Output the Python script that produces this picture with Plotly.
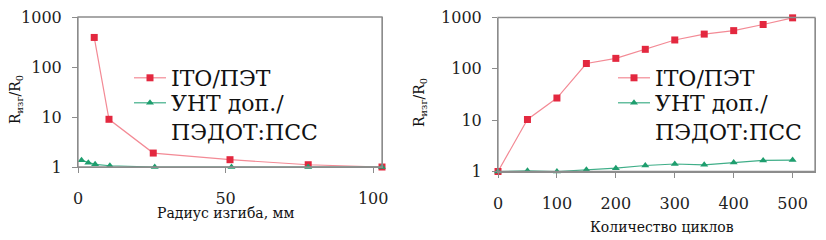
import plotly.graph_objects as go

# Left panel: bending radius
radius_ito = [5.5, 10.5, 25.5, 51.5, 78, 103]
ito_left = [390, 9.0, 1.9, 1.4, 1.11, 1.0]
radius_cnt = [1.2, 3.5, 5.8, 10.8, 26, 52, 78, 103]
cnt_left = [1.36, 1.22, 1.13, 1.06, 1.0, 1.0, 1.0, 1.0]

# Right panel: number of cycles
cycles = [0, 50, 100, 150, 200, 250, 300, 350, 400, 450, 500]
ito_right = [1.0, 10.3, 27, 127, 160, 240, 365, 475, 555, 730, 985]
cnt_right = [1.0, 1.03, 1.0, 1.08, 1.16, 1.31, 1.4, 1.35, 1.5, 1.64, 1.67]

name_ito = "ITO/ПЭТ"
name_cnt = "УНТ доп./<br>ПЭДОТ:ПСС"
xtitle_left = "Радиус изгиба, мм"
xtitle_right = "Количество циклов"
ytitle = "R<sub>изг</sub>/R<sub>0</sub>"

RED = "#e3283f"
RED_LINE = "#f38a95"
GREEN = "#1e9e6e"
GREEN_LINE = "#3fae88"
AXIS = "#8c8c8c"
FONT = "DejaVu Serif"

OFF = 8
W, H = 826, 240
def fx(px):
    return (px - OFF) / W
def fy(py):
    return 1 - (py - OFF) / H

fig = go.Figure()
def add(x, y, name, red, xa, ya, leg):
    fig.add_trace(go.Scatter(
        x=x, y=y, mode="lines+markers", name=name,
        line=dict(color=RED_LINE if red else GREEN_LINE, width=1.2),
        marker=dict(symbol="square" if red else "triangle-up", size=7,
                    color=RED if red else GREEN),
        xaxis=xa, yaxis=ya, legend=leg, cliponaxis=False))

add(radius_ito, ito_left, name_ito, True, "x", "y", "legend")
add(radius_cnt, cnt_left, name_cnt, False, "x", "y", "legend3")
add(cycles, ito_right, name_ito, True, "x2", "y2", "legend2")
add(cycles, cnt_right, name_cnt, False, "x2", "y2", "legend4")

axis_common = dict(showline=True, linecolor=AXIS, linewidth=1,
                   showgrid=False, zeroline=False, ticks="outside", ticklen=5,
                   tickcolor=AXIS, automargin=False, ticklabeloverflow="allow",
                   tickfont=dict(family=FONT, size=16, color="#222"))
xax = dict(ticklabelstandoff=12, mirror=False, **axis_common)
yax = dict(ticklabelstandoff=7, mirror=True, **axis_common)

legend_common = dict(font=dict(family=FONT, size=22, color="#111"), bgcolor="rgba(0,0,0,0)",
                     tracegroupgap=0, itemwidth=32, valign="top", xanchor="left", yanchor="top",
                     itemclick=False, itemdoubleclick=False)

title_font = dict(family=FONT, size=14, color="#111")

fig.update_layout(
    width=W, height=H, margin=dict(l=0, r=0, t=0, b=0, autoexpand=False),
    paper_bgcolor="white", plot_bgcolor="white",
    xaxis=dict(domain=[fx(78), fx(382)], range=[0, 103], tickvals=[0, 50, 100],
               anchor="y", **xax),
    yaxis=dict(domain=[fy(167), fy(17)], type="log", range=[0, 3],
               tickvals=[1, 10, 100, 1000], ticktext=["1", "10", "100", "1000"],
               anchor="x", **yax),
    xaxis2=dict(domain=[fx(498), fx(815)], range=[0, 538],
                tickvals=[0, 100, 200, 300, 400, 500], anchor="y2", **xax),
    yaxis2=dict(domain=[fy(171.5), fy(17.5)], type="log", range=[0, 3],
                tickvals=[1, 10, 100, 1000], ticktext=["1", "10", "100", "1000"],
                anchor="x2", **yax),
    legend=dict(x=fx(129), y=fy(57), **legend_common),
    legend3=dict(x=fx(129), y=fy(82), **legend_common),
    legend2=dict(x=fx(613), y=fy(57), **legend_common),
    legend4=dict(x=fx(613), y=fy(82), **legend_common),
    showlegend=True,
    shapes=[
        dict(type="rect", xref="paper", yref="paper", x0=fx(78), x1=fx(382),
             y0=fy(167), y1=fy(17), line=dict(color=AXIS, width=1.3),
             fillcolor="rgba(0,0,0,0)", layer="above"),
        dict(type="rect", xref="paper", yref="paper", x0=fx(498), x1=fx(815),
             y0=fy(171.5), y1=fy(17.5), line=dict(color=AXIS, width=1.3),
             fillcolor="rgba(0,0,0,0)", layer="above"),
    ],
    annotations=[
        dict(text=xtitle_left, x=fx(226), y=fy(213), xref="paper", yref="paper",
             xanchor="center", yanchor="middle", showarrow=False, font=title_font),
        dict(text=xtitle_right, x=fx(662), y=fy(227), xref="paper", yref="paper",
             xanchor="center", yanchor="middle", showarrow=False, font=title_font),
        dict(text=ytitle, x=fx(16), y=fy(100), xref="paper", yref="paper", textangle=-90,
             xanchor="center", yanchor="middle", showarrow=False, font=title_font),
        dict(text=ytitle, x=fx(420), y=fy(103), xref="paper", yref="paper", textangle=-90,
             xanchor="center", yanchor="middle", showarrow=False, font=title_font),
    ],
)

fig.write_html("out.html")
